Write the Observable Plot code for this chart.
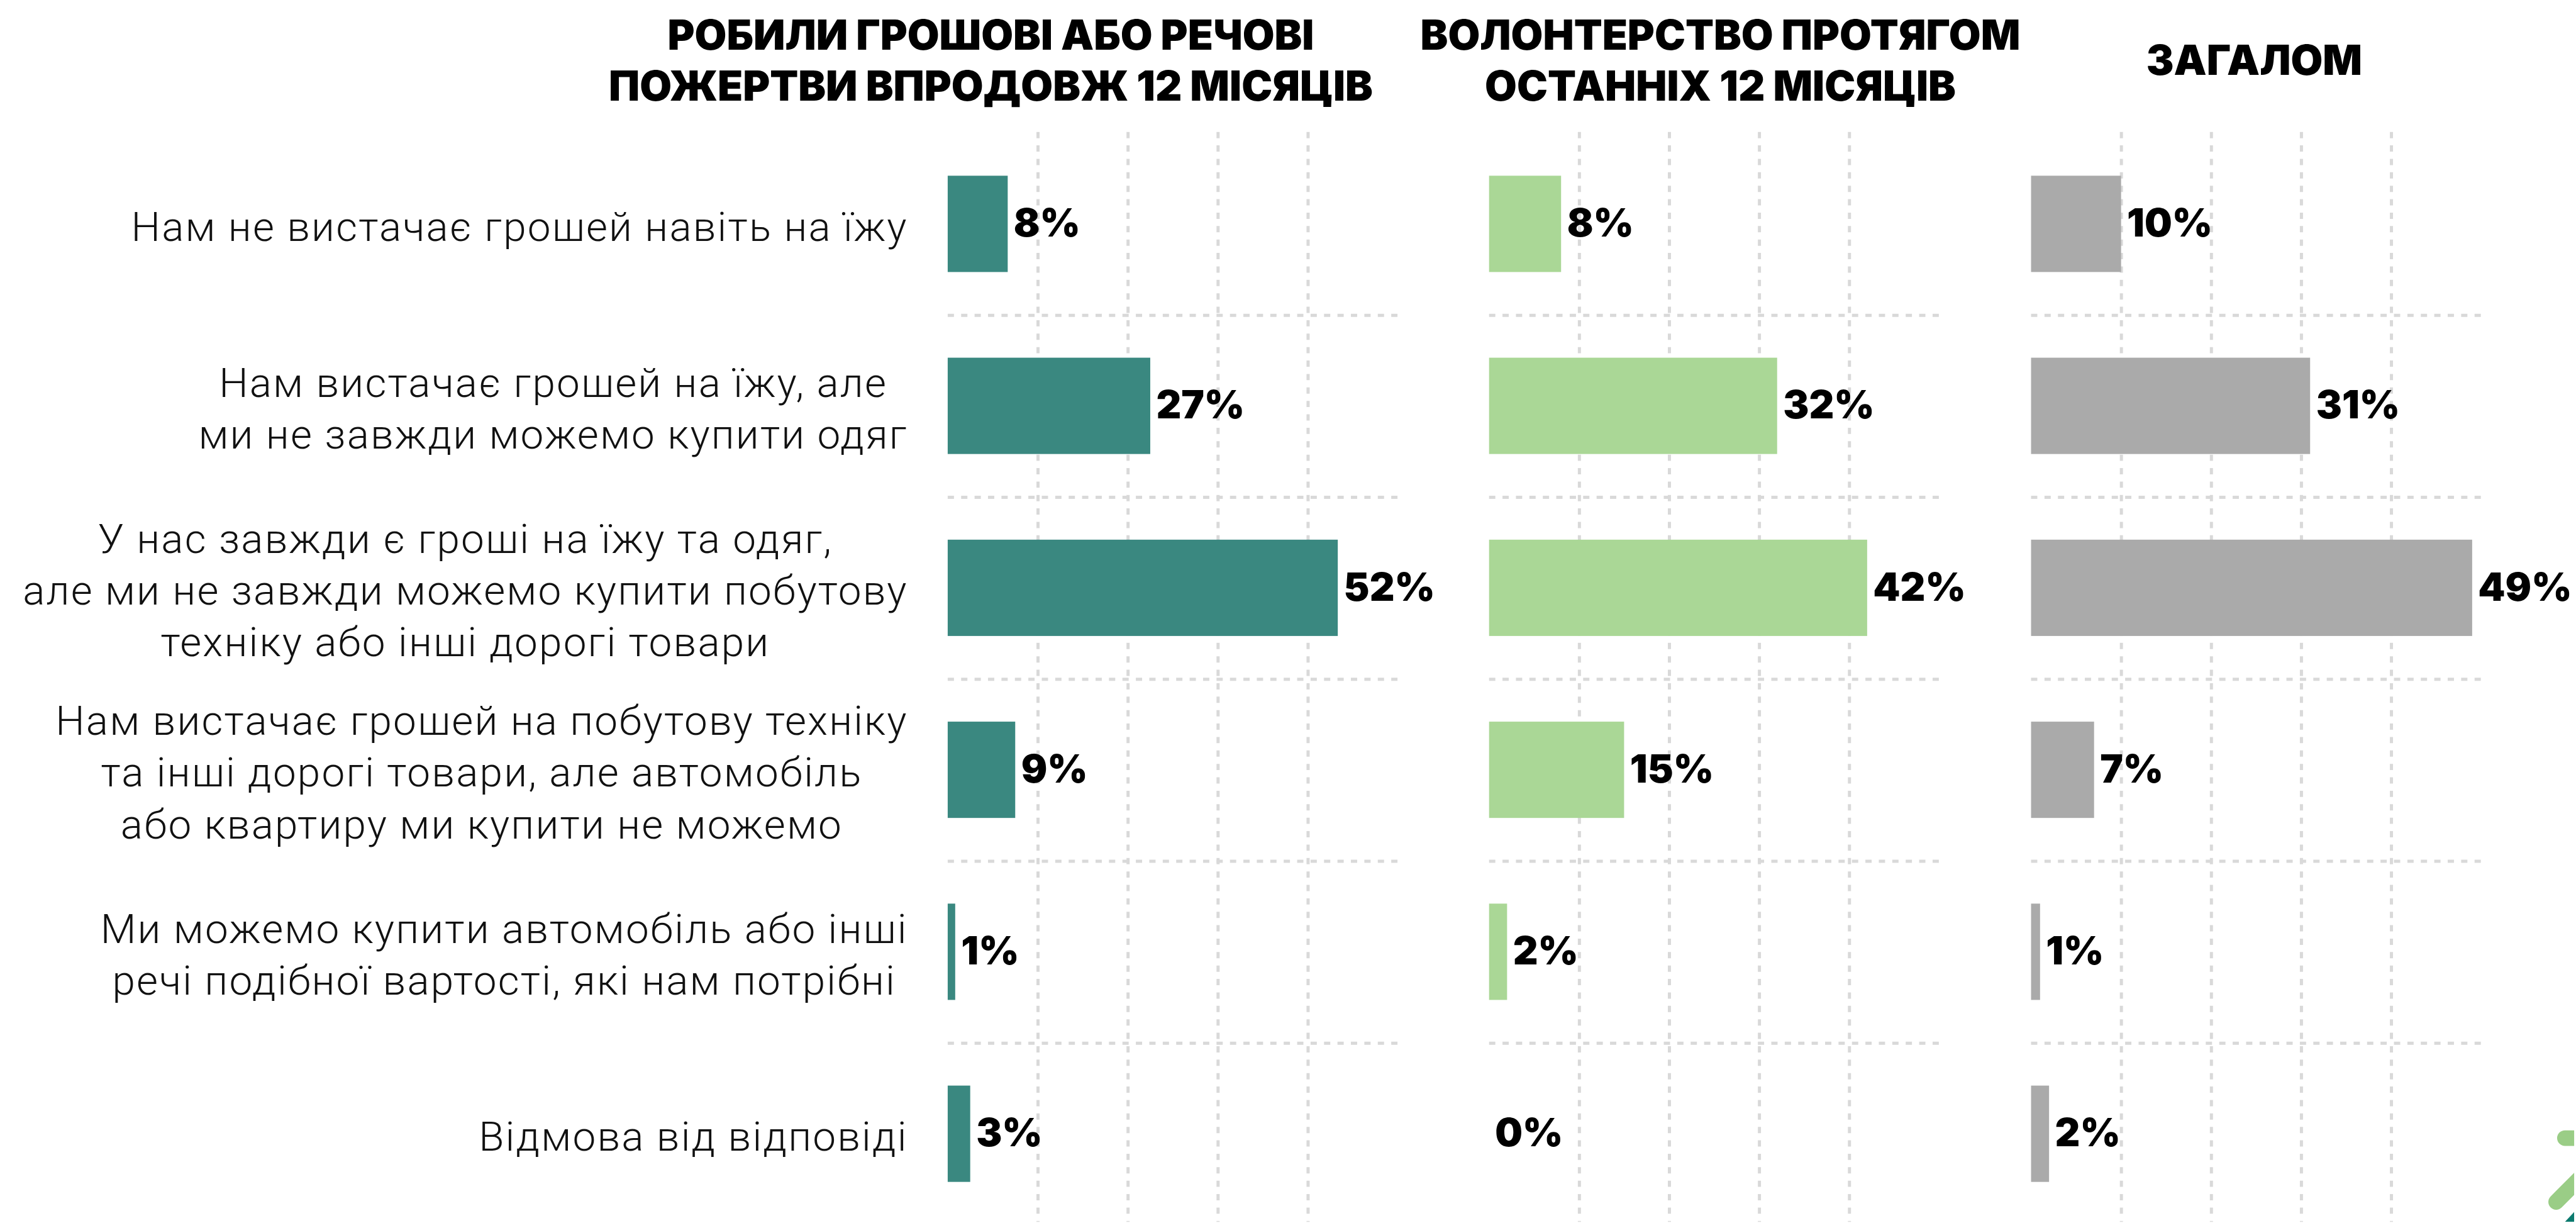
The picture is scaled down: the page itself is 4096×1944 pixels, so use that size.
<!DOCTYPE html>
<html>
<head>
<meta charset="utf-8">
<script src="https://cdn.jsdelivr.net/npm/d3@7"></script>
<script src="https://cdn.jsdelivr.net/npm/@observablehq/plot@0.6"></script>
<style>
  html, body { margin: 0; padding: 0; background: #fff; overflow: hidden; width: 4096px; height: 1944px; }
  #root { position: absolute; left: 0; top: 0; width: 4118px; height: 1954px; transform: scale(0.994); transform-origin: 0 0; overflow: hidden; }
  #root svg.panel { position: absolute; top: 0; overflow: visible; }
  #root svg.panel g[font-weight="300"] { letter-spacing: 2.2px; }
  .title { position: absolute; width: 2000px; font-family: Inter, "Noto Sans", sans-serif; font-weight: 900; font-size: 66px; line-height: 82px; text-align: center; white-space: nowrap; color: #000; }
  #logo { position: absolute; left: 4040px; top: 1780px; }
</style>
</head>
<body>
<div id="root"></div>
<script>
// ---------- data ----------
const categories = [
  "Нам не вистачає грошей навіть на їжу",
  "Нам вистачає грошей на їжу, але\nми не завжди можемо купити одяг",
  "У нас завжди є гроші на їжу та одяг,\nале ми не завжди можемо купити побутову\nтехніку або інші дорогі товари",
  "Нам вистачає грошей на побутову техніку\nта інші дорогі товари, але автомобіль\nабо квартиру ми купити не можемо",
  "Ми можемо купити автомобіль або інші\nречі подібної вартості, які нам потрібні",
  "Відмова від відповіді"
];
const donations    = [8, 27, 52, 9, 1, 3];
const volunteering = [8, 32, 42, 15, 2, 0];
const overall      = [10, 31, 49, 7, 1, 2];
const panelTitles = [
  ["РОБИЛИ ГРОШОВІ АБО РЕЧОВІ", "ПОЖЕРТВИ ВПРОДОВЖ 12 МІСЯЦІВ"],
  ["ВОЛОНТЕРСТВО ПРОТЯГОМ", "ОСТАННІХ 12 МІСЯЦІВ"],
  ["ЗАГАЛОМ"]
];
const xDomainMax = [60, 50, 50];
const gridTicks = [[12, 24, 36, 48], [10, 20, 30, 40], [10, 20, 30, 40]];
const colors = ["#3a8880", "#aad796", "#aaaaaa"];

// ---------- layout ----------
const series = [donations, volunteering, overall];
const root = document.getElementById("root");
const H = 1960, MT = 211, MB = 0;
const plotW = 720;
const panelLeft = [1516, 2382, 3249];
const titleCenter = [1585, 2752, 3606];
const titleTop = [14, 14, 55];
const labelFont = { family: "Roboto", weight: 300, size: 66, spacing: 2.2 };
const labelGap = 64;

const ctx = document.createElement("canvas").getContext("2d");
ctx.font = `${labelFont.weight} ${labelFont.size}px ${labelFont.family}`;
const lineWidth = l => ctx.measureText(l).width + labelFont.spacing * l.length;
const blockWidth = s => Math.max(...s.split("\n").map(lineWidth));

const halfStep = (H - MT - MB) / categories.length / 2;
const grid = {stroke: "#d9d9d9", strokeWidth: 5, strokeDasharray: "10 11.5"};

series.forEach((vals, k) => {
  const data = categories.map((c, i) => ({category: c, value: vals[i]}));
  const ml = k === 0 ? panelLeft[0] : 0;
  const mr = 150;
  const labelMarks = k === 0 ? categories.map(c =>
    Plot.text([c], {
      x: 0, y: d => d, text: d => d,
      textAnchor: "middle", lineAnchor: "middle", lineHeight: 82.7 / labelFont.size,
      dx: -(labelGap + blockWidth(c) / 2),
      fontFamily: labelFont.family, fontWeight: labelFont.weight, fontSize: labelFont.size,
      fill: "#111"
    })) : [];
  const svg = Plot.plot({
    width: ml + plotW + mr, height: H,
    marginLeft: ml, marginRight: mr, marginTop: MT, marginBottom: MB,
    className: "panel",
    style: {background: "transparent", overflow: "visible"},
    x: {domain: [0, xDomainMax[k]], axis: null},
    y: {domain: categories, axis: null, paddingInner: 0.47, paddingOuter: 0.235},
    marks: [
      Plot.ruleX(gridTicks[k], grid),
      Plot.ruleY(categories.slice(0, -1), {y: d => d, x1: 0, x2: xDomainMax[k], dy: halfStep, ...grid}),
      Plot.barX(data, {y: "category", x: "value", fill: colors[k]}),
      Plot.text(data, {
        y: "category", x: "value", text: d => d.value + "%",
        textAnchor: "start", dx: 9,
        fontFamily: "Inter", fontWeight: 900, fontSize: 62, fill: "#000"
      }),
      ...labelMarks
    ]
  });
  svg.classList.add("panel");
  svg.style.left = (panelLeft[k] - ml) + "px";
  root.appendChild(svg);

  const t = document.createElement("div");
  t.className = "title";
  t.style.left = (titleCenter[k] - 1000) + "px";
  t.style.top = titleTop[k] + "px";
  t.innerHTML = panelTitles[k].join("<br>");
  root.appendChild(t);
});

// decorative corner logo fragment (not data)
root.insertAdjacentHTML("beforeend",
  `<svg id="logo" width="78" height="174" viewBox="4040 1780 78 174">
     <line x1="4103" y1="1820" x2="4160" y2="1820" stroke="#9acd86" stroke-width="25" stroke-linecap="round"/>
     <line x1="4089" y1="1922" x2="4160" y2="1851" stroke="#9acd86" stroke-width="25" stroke-linecap="round"/>
     <polygon points="4103,1954 4118,1938 4118,1954" fill="#0b7a6e"/>
   </svg>`);
</script>
</body>
</html>
